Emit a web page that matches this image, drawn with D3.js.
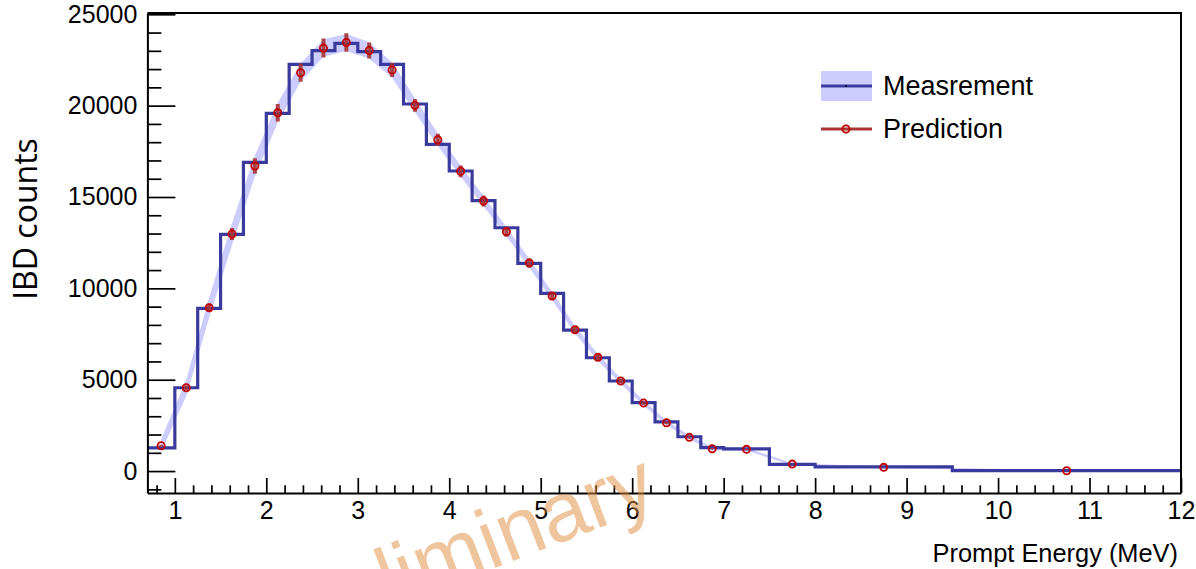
<!DOCTYPE html>
<html>
<head>
<meta charset="utf-8">
<script src="https://cdn.jsdelivr.net/npm/d3@7"></script>
<style>
  html, body { margin: 0; padding: 0; background: #fff; }
  svg { display: block; }
</style>
</head>
<body>
<svg id="chart" width="1196" height="569"></svg>
<script>
// Prompt energy binning (MeV)
const binEdges = [0.7, 1.0, 1.25, 1.5, 1.75, 2.0, 2.25, 2.5, 2.75, 3.0, 3.25, 3.5, 3.75,
  4.0, 4.25, 4.5, 4.75, 5.0, 5.25, 5.5, 5.75, 6.0, 6.25, 6.5, 6.75, 7.0, 7.5, 8.0, 9.5, 12.0];

// Measured IBD counts per bin
const measured = [1275, 4560, 8906, 12957, 16898, 19580, 22263, 23007, 23413, 22953, 22263,
  20090, 17884, 16422, 14796, 13318, 11370, 9727, 7718, 6202, 4929, 3741, 2698, 1878,
  1280, 1210, 367, 235, 27];

// Band half-width around the spectrum
const bandErr = [350, 450, 560, 600, 580, 540, 500, 480, 470, 450, 420, 380, 340, 300, 280,
  260, 240, 220, 200, 180, 160, 140, 120, 100, 90, 80, 60, 40, 30];

// Predicted counts per bin and their uncertainties
const predicted = [1385, 4560, 8939, 12973, 16696, 19613, 21803, 23150, 23455, 23020, 21951,
  20018, 18135, 16406, 14780, 13099, 11386, 9580, 7735, 6224, 4927, 3722, 2644, 1845,
  1221, 1188, 383, 203, 15];
const predErr = [60, 120, 230, 330, 430, 480, 500, 520, 500, 440, 385, 350, 330, 320, 300,
  270, 250, 220, 190, 160, 130, 100, 80, 60, 40, 40, 15, 10, 5];

const xTicks = [1, 2, 3, 4, 5, 6, 7, 8, 9, 10, 11, 12];
const yTicks = [0, 5000, 10000, 15000, 20000, 25000];

const svg = d3.select("#chart");
const frame = { left: 147.4, right: 1181, top: 13, bottom: 493 };

const x = d3.scaleLinear().domain([0.7, 12]).range([frame.left, frame.right]);
const y = d3.scaleLinear().domain([-1200, 25070]).range([frame.bottom, frame.top]);

const centers = binEdges.slice(0, -1).map((e, i) => (e + binEdges[i + 1]) / 2);

svg.append("rect").attr("width", 1196).attr("height", 569).attr("fill", "#fff");

svg.append("defs").append("clipPath").attr("id", "plotClip")
  .append("rect")
  .attr("x", frame.left).attr("y", frame.top)
  .attr("width", frame.right - frame.left).attr("height", frame.bottom - frame.top);

const plot = svg.append("g").attr("clip-path", "url(#plotClip)");

// Uncertainty band through the bin centres
const bandData = centers.map((c, i) => ({ x: c, lo: predicted[i] - bandErr[i], hi: predicted[i] + bandErr[i] }));
plot.append("path")
  .datum(bandData)
  .attr("fill", "#ccccff")
  .attr("stroke", "none")
  .attr("d", d3.area().x(d => x(d.x)).y0(d => y(d.lo)).y1(d => y(d.hi)));

// Measured spectrum as a step histogram
const stepPts = [];
measured.forEach((v, i) => {
  stepPts.push([binEdges[i], v]);
  stepPts.push([binEdges[i + 1], v]);
});
plot.append("path")
  .datum(stepPts)
  .attr("fill", "none")
  .attr("stroke", "#3a3a9e")
  .attr("stroke-width", 3.2)
  .attr("stroke-linejoin", "miter")
  .attr("d", d3.line().x(d => x(d[0])).y(d => y(d[1])));

// Prediction error bars and markers
const pts = centers.map((c, i) => ({ x: c, v: predicted[i], e: predErr[i] }));
plot.append("g").selectAll("line").data(pts).join("line")
  .attr("x1", d => x(d.x)).attr("x2", d => x(d.x))
  .attr("y1", d => y(d.v - d.e)).attr("y2", d => y(d.v + d.e))
  .attr("stroke", "#a83434")
  .attr("stroke-opacity", 0.9)
  .attr("stroke-width", 4);
plot.append("g").selectAll("circle").data(pts).join("circle")
  .attr("cx", d => x(d.x)).attr("cy", d => y(d.v))
  .attr("r", 3.6)
  .attr("fill", "none")
  .attr("stroke", "#c00000")
  .attr("stroke-width", 1.8);

// Axes
const font = "'Liberation Sans', Arial, Helvetica, sans-serif";

const xMinor = d3.range(0.8, 12.001, 0.2).map(v => +v.toFixed(2)).filter(v => Math.abs(v - Math.round(v)) > 1e-6);
svg.append("g")
  .attr("transform", `translate(0,${frame.bottom})`)
  .call(d3.axisBottom(x).tickValues(xMinor).tickSize(-7.7).tickSizeOuter(0).tickFormat(""))
  .call(g => g.select(".domain").remove())
  .call(g => g.selectAll("line").attr("stroke", "#000").attr("stroke-width", 1.7));
svg.append("g")
  .attr("transform", `translate(0,${frame.bottom})`)
  .call(d3.axisBottom(x).tickValues(xTicks).tickSize(-15).tickSizeOuter(0).tickPadding(8).tickFormat(d3.format("d")))
  .call(g => g.select(".domain").attr("stroke", "#000").attr("stroke-width", 2))
  .call(g => g.selectAll("line").attr("stroke", "#000").attr("stroke-width", 1.7))
  .call(g => g.selectAll("text").attr("font-family", font).attr("font-size", 25).attr("fill", "#000"));

const yMinor = d3.range(-1000, 25001, 1000).filter(v => v % 5000 !== 0);
svg.append("g")
  .attr("transform", `translate(${frame.left},0)`)
  .call(d3.axisLeft(y).tickValues(yMinor).tickSize(-14).tickSizeOuter(0).tickFormat(""))
  .call(g => g.select(".domain").remove())
  .call(g => g.selectAll("line").attr("stroke", "#000").attr("stroke-width", 1.7));
svg.append("g")
  .attr("transform", `translate(${frame.left},0)`)
  .call(d3.axisLeft(y).tickValues(yTicks).tickSize(-28).tickSizeOuter(0).tickPadding(10).tickFormat(d3.format("d")))
  .call(g => g.select(".domain").attr("stroke", "#000").attr("stroke-width", 2))
  .call(g => g.selectAll("line").attr("stroke", "#000").attr("stroke-width", 1.7))
  .call(g => g.selectAll("text").attr("font-family", font).attr("font-size", 25).attr("fill", "#000"));

// Top and right frame edges
svg.append("path")
  .attr("d", `M${frame.left},${frame.top}H${frame.right}V${frame.bottom}`)
  .attr("fill", "none").attr("stroke", "#000").attr("stroke-width", 2);

// Axis titles
svg.append("text")
  .attr("transform", "translate(37,219) rotate(-90)")
  .attr("text-anchor", "middle")
  .attr("font-family", "'Open Sans', 'Noto Sans', sans-serif")
  .attr("font-size", 32)
  .attr("fill", "#000")
  .text("IBD counts");

svg.append("text")
  .attr("x", 1178).attr("y", 562)
  .attr("text-anchor", "end")
  .attr("font-family", font)
  .attr("font-size", 25.4)
  .attr("fill", "#000")
  .text("Prompt Energy (MeV)");

// Legend
const legend = svg.append("g");
legend.append("rect").attr("x", 821).attr("y", 71).attr("width", 51).attr("height", 30).attr("fill", "#ccccff");
legend.append("line").attr("x1", 821).attr("x2", 872).attr("y1", 86).attr("y2", 86)
  .attr("stroke", "#3a3a9e").attr("stroke-width", 3.2);
legend.append("circle").attr("cx", 846).attr("cy", 86).attr("r", 1).attr("fill", "#000");
legend.append("text").attr("x", 883).attr("y", 95)
  .attr("font-family", font).attr("font-size", 27).attr("fill", "#000").text("Measrement");

legend.append("line").attr("x1", 821).attr("x2", 872).attr("y1", 129).attr("y2", 129)
  .attr("stroke", "#a83434").attr("stroke-width", 3.2);
legend.append("circle").attr("cx", 846).attr("cy", 129).attr("r", 3.6)
  .attr("fill", "none").attr("stroke", "#c00000").attr("stroke-width", 1.8);
legend.append("text").attr("x", 883).attr("y", 138)
  .attr("font-family", font).attr("font-size", 27).attr("fill", "#000").text("Prediction");

// Watermark, running off the bottom edge
svg.append("text")
  .attr("transform", "translate(268,655) rotate(-21)")
  .attr("text-anchor", "start")
  .attr("font-family", font)
  .attr("font-size", 84)
  .attr("fill", "rgb(224,140,60)")
  .attr("fill-opacity", 0.5)
  .text("Preliminary");
</script>
</body>
</html>
